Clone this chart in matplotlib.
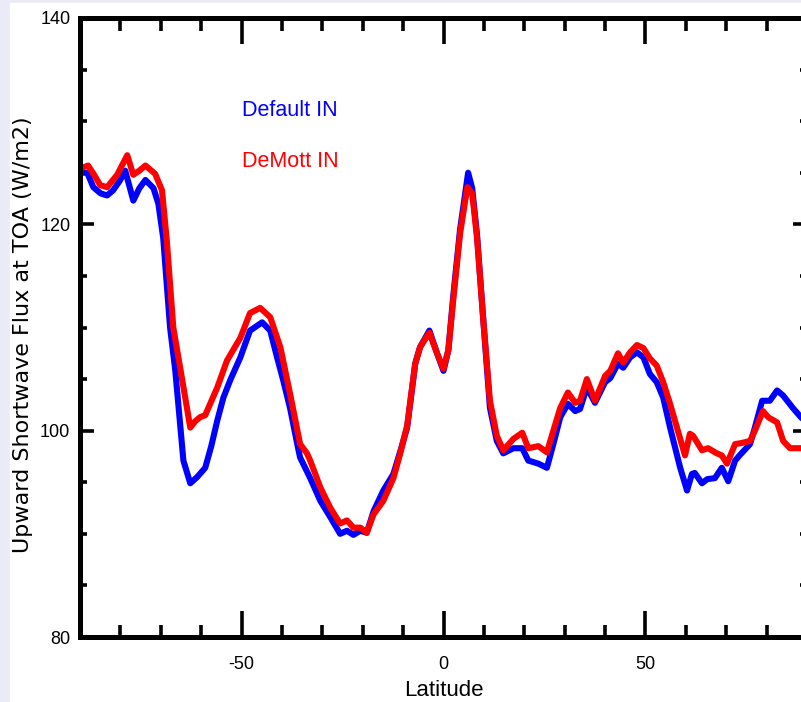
import matplotlib
matplotlib.use("Agg")
import matplotlib.pyplot as plt
from matplotlib.patches import Rectangle
from matplotlib.ticker import MultipleLocator

# latitude / flux
lat_default = [-90, -88.2, -86.7, -84.9, -83.3, -81.8, -80.2, -78.8, -76.8, -75.3,
               -73.8, -71.8, -70.6, -69.4, -67.7, -66.4, -64.4, -62.7, -61.0, -59.0,
               -57.5, -56.0, -54.5, -52.8, -50.3, -47.9, -44.9, -42.9, -41.2, -39.7,
               -38.0, -36.0, -35.5, -33.0, -30.5, -28.0, -25.6, -23.9, -22.3, -20.6,
               -19.0, -17.3, -14.9, -12.4, -10.7, -9.0, -7.0, -5.8, -3.5, -1.6,
               0.0, 1.2, 2.4, 4.1, 6.1, 7.1, 8.3, 9.8, 11.5, 13.2,
               14.8, 17.3, 19.5, 21.0, 23.5, 25.6, 27.2, 28.9, 30.8, 32.6,
               33.8, 35.5, 37.5, 40.0, 41.3, 43.2, 44.5, 46.2, 47.9, 49.5,
               51.1, 52.8, 54.4, 56.1, 58.6, 60.3, 61.5, 62.2, 64.0, 65.3,
               67.2, 68.9, 70.5, 72.2, 73.3, 75.9, 77.1, 78.9, 80.8, 82.6,
               84.1, 86.5, 88.5, 90]
flux_default = [125.0, 125.0, 123.6, 123.0, 122.8, 123.3, 124.2, 125.2, 122.3, 123.5,
                124.3, 123.5, 122.0, 118.7, 110.0, 105.8, 97.1, 94.9, 95.5, 96.4,
                98.5, 101.0, 103.2, 104.9, 107.1, 109.7, 110.5, 109.7, 107.1, 104.9,
                102.2, 98.3, 97.4, 95.4, 93.2, 91.6, 90.0, 90.3, 89.9, 90.3,
                90.1, 92.2, 94.2, 95.8, 98.0, 100.3, 106.5, 108.1, 109.7, 107.5,
                105.8, 107.8, 113.0, 119.5, 125.0, 123.5, 119.0, 111.0, 102.2, 99.0,
                97.8, 98.3, 98.3, 97.1, 96.8, 96.4, 98.7, 101.3, 102.6, 101.9,
                102.1, 104.2, 102.7, 104.7, 105.1, 106.5, 106.1, 107.1, 107.6, 107.1,
                105.5, 104.7, 103.2, 100.3, 96.4, 94.2, 95.8, 95.9, 94.9, 95.3,
                95.4, 96.4, 95.1, 97.1, 97.6, 98.7, 100.3, 102.9, 102.9, 103.9,
                103.4, 102.2, 101.3, 100.8]

lat_demott = [-90, -88.0, -86.5, -85.0, -83.3, -80.8, -78.3, -76.8, -75.3, -73.8,
              -71.4, -69.7, -68.5, -66.9, -65.2, -62.7, -61.5, -60.3, -59.0, -56.0,
              -53.6, -50.3, -47.9, -45.4, -42.9, -40.4, -38.0, -35.5, -33.8, -33.0,
              -30.5, -28.0, -25.6, -23.9, -22.3, -20.6, -19.0, -17.3, -14.9, -12.4,
              -10.7, -9.0, -7.0, -5.8, -3.5, -1.6, 0.0, 1.2, 2.4, 4.1,
              5.9, 7.1, 8.3, 9.8, 11.5, 13.2, 14.8, 17.3, 19.5, 21.0,
              23.5, 25.6, 27.2, 28.9, 30.8, 32.6, 33.8, 35.5, 37.5, 40.0,
              41.3, 43.2, 44.5, 46.2, 47.9, 49.5, 51.1, 52.8, 54.4, 56.1,
              57.8, 59.8, 61.0, 61.8, 64.0, 65.5, 67.7, 68.9, 70.2, 72.2,
              73.8, 75.9, 77.1, 79.1, 80.4, 82.6, 84.1, 85.8, 88.3, 90]
flux_demott = [125.4, 125.7, 124.8, 123.8, 123.6, 124.8, 126.7, 124.8, 125.2, 125.7,
               124.9, 123.3, 118.4, 110.0, 106.1, 100.3, 100.9, 101.3, 101.5, 104.2,
               106.8, 109.0, 111.4, 111.9, 111.0, 108.1, 103.6, 98.7, 97.8, 97.1,
               94.5, 92.5, 91.0, 91.3, 90.6, 90.6, 90.1, 91.9, 93.2, 95.4,
               97.8, 100.5, 106.5, 108.1, 109.5, 107.5, 106.0, 107.8, 112.6, 119.1,
               123.6, 123.0, 118.7, 111.0, 102.9, 99.5, 98.1, 99.2, 99.8, 98.3,
               98.5, 97.9, 100.0, 102.2, 103.7, 102.7, 102.9, 105.0, 102.9, 105.3,
               105.8, 107.5, 106.6, 107.6, 108.3, 108.0, 107.0, 106.3, 104.7, 102.6,
               100.3, 97.6, 99.7, 99.5, 98.1, 98.3, 97.8, 97.6, 96.8, 98.7,
               98.8, 99.0, 100.0, 101.9, 101.3, 100.8, 99.0, 98.3, 98.3, 98.3]

series_names = ["Default IN", "DeMott IN"]
series_colors = ["#0000ff", "#ff0000"]

plt.rcParams["font.family"] = ["Liberation Sans", "DejaVu Sans"]
plt.rcParams["axes.unicode_minus"] = False

fig = plt.figure(figsize=(8.01, 7.02), dpi=100, facecolor="#ebebf7")
# white page with a thin lavender border on the left and top
fig.patches.append(Rectangle((10 / 801, 0), 1, 1 - 3 / 702,
                             transform=fig.transFigure, color="white", zorder=-10))

ax = fig.add_axes([80 / 801, (702 - 637) / 702, (807 - 80) / 801, (637 - 18) / 702])
ax.set_facecolor("white")

ax.plot(lat_default, flux_default, color=series_colors[0], lw=4.4, solid_joinstyle="round")
ax.plot(lat_demott, flux_demott, color=series_colors[1], lw=4.4, solid_joinstyle="round")

ax.set_xlim(-90, 90)
ax.set_ylim(80, 140)

ax.xaxis.set_major_locator(MultipleLocator(50))
ax.xaxis.set_minor_locator(MultipleLocator(10))
ax.yaxis.set_major_locator(MultipleLocator(20))
ax.yaxis.set_minor_locator(MultipleLocator(5))

ax.tick_params(axis="x", which="major", direction="in", length=19, width=2.6,
               top=True, bottom=True, labelsize=13, pad=14)
ax.tick_params(axis="x", which="minor", direction="in", length=9, width=2.6,
               top=True, bottom=True)
ax.tick_params(axis="y", which="major", direction="in", length=10, width=2.6,
               left=True, right=True, labelsize=13, pad=7)
ax.tick_params(axis="y", which="minor", direction="in", length=5, width=2.6,
               left=True, right=True)

for s in ax.spines.values():
    s.set_linewidth(3.6)

ax.set_xlabel("Latitude", fontsize=16, labelpad=5)
ax.set_ylabel("Upward Shortwave Flux at TOA (W/m2)", fontsize=16,
              family=["DejaVu Sans"])
ax.yaxis.set_label_coords(-0.064, 0.488)

ax.text(-50, 131, series_names[0], color=series_colors[0], fontsize=15.5, va="center")
ax.text(-50, 126.1, series_names[1], color=series_colors[1], fontsize=15.5, va="center")

fig.savefig("out.png", dpi=100, facecolor=fig.get_facecolor())
